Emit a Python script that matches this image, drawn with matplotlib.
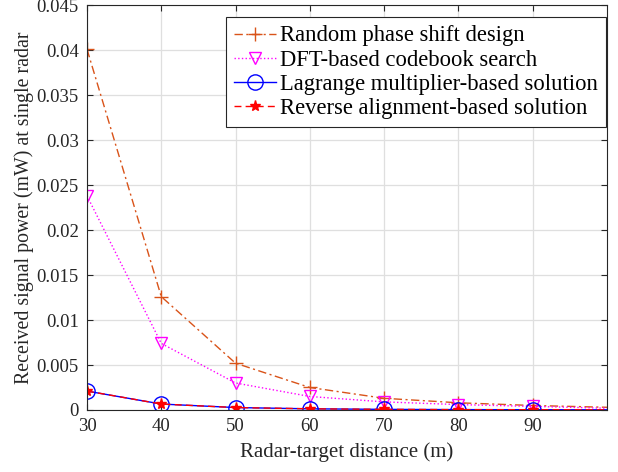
import matplotlib
matplotlib.use("Agg")
import matplotlib.pyplot as plt

distance = [30, 40, 50, 60, 70, 80, 90, 100, 110]
random_phase = [0.0401, 0.0126, 0.0052, 0.0025, 0.0013, 0.0008, 0.0005, 0.0003, 0.0002]
dft_search = [0.0238, 0.0074, 0.0030, 0.0015, 0.0009, 0.0006, 0.0004, 0.0002, 0.00015]
lagrange = [0.0021, 0.00066, 0.00027, 0.00013, 0.00007, 0.00004, 0.00003, 0.00002, 0.00001]
reverse = [0.0021, 0.00066, 0.00027, 0.00013, 0.00007, 0.00004, 0.00003, 0.00002, 0.00001]
xticks = [30, 40, 50, 60, 70, 80, 90]
yticks = [0, 0.005, 0.01, 0.015, 0.02, 0.025, 0.03, 0.035, 0.04, 0.045]
ytick_labels = ["0", "0.005", "0.01", "0.015", "0.02", "0.025", "0.03", "0.035", "0.04", "0.045"]

plt.rcParams['font.family'] = ['Liberation Serif', 'DejaVu Serif']
plt.rcParams['mathtext.fontset'] = 'stix'

fig = plt.figure(figsize=(6.18, 4.72), dpi=100)
ax = fig.add_axes([0.1408, 0.1314, 0.8412, 0.8576])

mk = list(range(7))
ax.plot(distance, random_phase, color='#D95319', linestyle='-.', marker='+', markevery=mk,
        markersize=10, linewidth=1.0, label='Random phase shift design', dashes=(6, 2.5, 1.5, 2.5))
ax.plot(distance, dft_search, color='#FF00FF', linestyle=':', marker='v', markevery=mk,
        markersize=9, markerfacecolor='none', linewidth=1.0, label='DFT-based codebook search')
ax.plot(distance, lagrange, color='#0000FF', linestyle='-', marker='o', markevery=mk,
        markersize=11, markerfacecolor='none', linewidth=1.0, label='Lagrange multiplier-based solution')
ax.plot(distance, reverse, color='#FF0000', linestyle='--', marker='*', markevery=mk,
        markersize=8, linewidth=1.0, label='Reverse alignment-based solution', dashes=(5, 3))

ax.set_xlim(30, 100)
ax.set_ylim(0, 0.045)
ax.set_xticks(xticks)
ax.set_yticks(yticks)
ax.set_yticklabels(ytick_labels)
ax.grid(True, color='#DFDFDF', linewidth=0.9)
ax.set_axisbelow(True)
ax.tick_params(direction='in', top=True, right=True, labelsize=13.5, colors='#262626',
               length=4, pad=6)
for s in ax.spines.values():
    s.set_color('#262626')
    s.set_linewidth(0.8)

ax.set_xlabel('Radar-target distance (m)', fontsize=15, color='#262626', labelpad=5)
ax.set_ylabel('Received signal power (mW) at single radar', fontsize=14.3, color='#262626', labelpad=2)

leg = ax.legend(loc='upper right', bbox_to_anchor=(0.999, 0.970), fontsize=16.3, frameon=True,
                fancybox=False, edgecolor='#262626', framealpha=1, handlelength=1.85,
                borderpad=0.36, labelspacing=0.14, handletextpad=0.2, borderaxespad=0)
leg.get_frame().set_linewidth(0.8)

fig.savefig('out.png', dpi=100)
